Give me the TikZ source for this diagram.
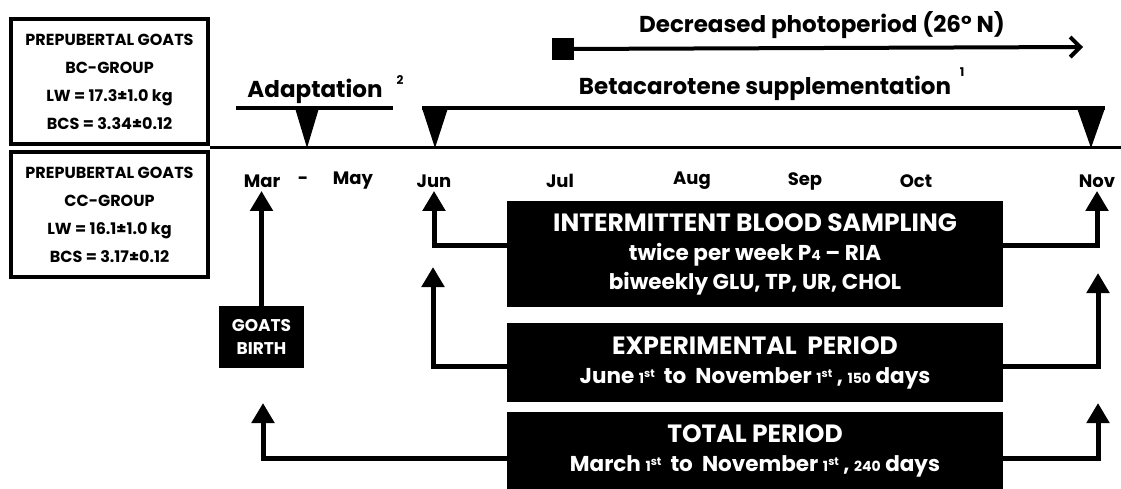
\documentclass[tikz,border=0pt]{standalone}
\usepackage{fontspec}
\setmainfont{Poppins}
\usetikzlibrary{arrows.meta,positioning}
\tikzset{
  groupbox/.style={draw,line width=4pt,minimum width=197pt,minimum height=125pt,
    inner sep=0pt,align=center,font=\fontsize{16}{28}\selectfont\bfseries},
  blackbox/.style={fill=black,text=white,minimum width=496pt,inner sep=0pt,
    align=center,font=\fontsize{21.5}{29}\selectfont\bfseries},
  month/.style={font=\fontsize{18}{18}\selectfont\bfseries},
  headline/.style={font=\fontsize{23}{23}\selectfont\bfseries},
  footmark/.style={font=\fontsize{12}{12}\selectfont\bfseries},
  uparrow/.style={line width=5pt,-{Triangle[width=22pt,length=20pt]}},
  bar/.style={line width=4pt},
}
\newcommand\lownum[1]{{\fontsize{14}{14}\selectfont #1}}
\newcommand\ordst{\raisebox{6pt}{\fontsize{11}{11}\selectfont st}}
\newcommand\boxtitle[1]{{\fontsize{25}{29}\selectfont #1}}

\begin{document}
\begin{tikzpicture}[x=1pt,y=-1pt]
  \useasboundingbox (0,0) rectangle (1121,488);

  % groups
  \node[groupbox] (bc) at (109.5,81.5) {PREPUBERTAL GOATS\\BC-GROUP\\LW = 17.3±1.0 kg\\BCS = 3.34±0.12};
  \node[groupbox] (cc) at (109.5,214.5) {PREPUBERTAL GOATS\\CC-GROUP\\LW = 16.1±1.0 kg\\BCS = 3.17±0.12};
  \draw[line width=3pt] (210,147) -- (1121,147);

  % top labels
  \node[headline] (adapt) at (315,91) {Adaptation};
  \node[footmark] at (400,80) {2};
  \draw[bar] (236,108) -- (393,108);
  \node[headline] (beta) at (765,88) {Betacarotene supplementation};
  \node[footmark] at (962,72) {1};
  \draw[bar] (422,108) -- (1105,108);
  \foreach \ax/\hw in {307/12,435/13,1091/14}
    \fill (\ax-\hw,108) -- (\ax+\hw,108) -- (\ax,148) -- cycle;

  \node[fill,minimum width=22pt,minimum height=22pt,inner sep=0pt] (start) at (563,49) {};
  \node[headline] (photo) at (822,25) {Decreased photoperiod (26° N)};
  \coordinate (pend) at (1083,47);
  \draw[line width=4pt,-{Straight Barb[length=10pt,width=20pt]}] (start) -- (pend);

  % months
  \node[month] (mar) at (262,181) {Mar};
  \node[month] at (303,181) {-};
  \node[month] (may) at (353,181) {May};
  \node[month] (jun) at (434,181) {Jun};
  \node[month] (jul) at (560,181) {Jul};
  \node[month] (aug) at (692,181) {Aug};
  \node[month] (sep) at (805,181) {Sep};
  \node[month] (oct) at (916,181) {Oct};
  \node[month] (nov) at (1097,181) {Nov};

  % periods
  \node[blackbox,minimum height=106pt] (samp) at (755,254)
    {\boxtitle{INTERMITTENT BLOOD SAMPLING}\\twice per week P\lownum{4} – RIA\\biweekly GLU, TP, UR, CHOL};
  \node[blackbox,minimum height=79pt] (exp) at (755,362.5)
    {\boxtitle{EXPERIMENTAL\ \ PERIOD}\\June \lownum{1}\ordst\ \ to\ \ November \lownum{1}\ordst\ , \lownum{150} days};
  \node[blackbox,minimum height=78pt] (tot) at (755,451)
    {\boxtitle{TOTAL PERIOD}\\March \lownum{1}\ordst\ \ to\ \ November \lownum{1}\ordst\ , \lownum{240} days};
  \node[fill,text=white,inner sep=0pt,minimum width=85pt,minimum height=62pt,align=center,
    font=\fontsize{17}{23}\selectfont\bfseries] (birth) at (261.5,337) {GOATS\\BIRTH};

  \coordinate (jun2) at (433,267);
  \coordinate (mar2) at (263,403);
  \coordinate (nov2) at (1098,273);
  \coordinate (nov3) at (1098,403);
  \draw[uparrow] (birth.north) -- (birth.north |- mar.south);
  \draw[uparrow] ([yshift=9pt]samp.west) -| (jun.south);
  \draw[uparrow] ([yshift=-4pt]exp.west) -| (jun2);
  \draw[uparrow] ([yshift=-7pt]tot.west) -| (mar2);
  \draw[uparrow] ([yshift=9pt]samp.east) -| (nov.south);
  \draw[uparrow] ([yshift=-4pt]exp.east) -| (nov2);
  \draw[uparrow] ([yshift=-7pt]tot.east) -| (nov3);
\end{tikzpicture}
\end{document}
